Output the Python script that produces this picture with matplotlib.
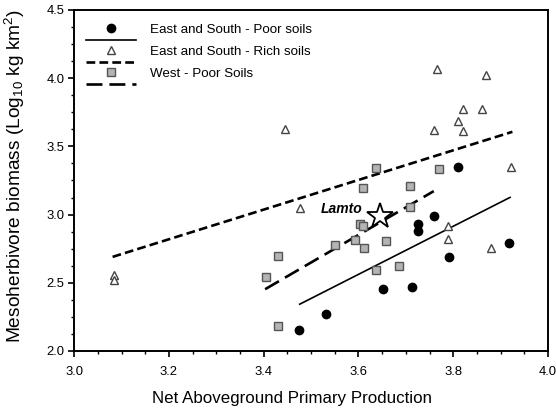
import matplotlib
matplotlib.use("Agg")
import matplotlib.pyplot as plt
from matplotlib.lines import Line2D
from matplotlib.legend_handler import HandlerBase
from matplotlib.ticker import MultipleLocator, FormatStrFormatter

plt.rcParams['font.family'] = ['Liberation Sans', 'DejaVu Sans']
plt.rcParams['mathtext.fontset'] = 'custom'
plt.rcParams['mathtext.rm'] = 'Liberation Sans'
plt.rcParams['mathtext.it'] = 'Liberation Sans:italic'
plt.rcParams['lines.scale_dashes'] = False

# East and South - poor soils
poor_x = [3.474, 3.532, 3.652, 3.712, 3.726, 3.726, 3.759, 3.791, 3.811, 3.918]
poor_y = [2.157, 2.270, 2.451, 2.466, 2.930, 2.881, 2.991, 2.690, 3.350, 2.793]

# East and South - rich soils
rich_x = [3.083, 3.083, 3.444, 3.476, 3.759, 3.766, 3.789, 3.789, 3.810,
          3.821, 3.821, 3.861, 3.869, 3.880, 3.923]
rich_y = [2.556, 2.524, 3.627, 3.050, 3.620, 4.065, 2.918, 2.818, 3.686,
          3.771, 3.610, 3.771, 4.023, 2.752, 3.350]

# West - poor soils
west_x = [3.404, 3.430, 3.430, 3.551, 3.592, 3.603, 3.610, 3.610, 3.611,
          3.636, 3.636, 3.659, 3.685, 3.708, 3.708, 3.769]
west_y = [2.543, 2.700, 2.182, 2.776, 2.813, 2.930, 2.918, 3.192, 2.752,
          3.343, 2.592, 2.805, 2.624, 3.209, 3.052, 3.331]

# Lamto site
lamto_x = [3.646]
lamto_y = [2.989]

# Regression line end points
poor_fit_x = [3.476, 3.920]
poor_fit_y = [2.343, 3.126]
rich_fit_x = [3.081, 3.925]
rich_fit_y = [2.690, 3.607]
west_fit_x = [3.403, 3.759]
west_fit_y = [2.453, 3.172]

labels = ["East and South - Poor soils", "East and South - Rich soils",
          "West - Poor Soils"]

poor_marker = dict(marker='o', markersize=6, markerfacecolor='black',
                   markeredgecolor='black', linestyle='none')
rich_marker = dict(marker='^', markersize=5.5, markerfacecolor='white',
                   markeredgecolor='#444444', markeredgewidth=1.0, linestyle='none')
west_marker = dict(marker='s', markersize=5.6, markerfacecolor='#b4b4b4',
                   markeredgecolor='#555555', markeredgewidth=1.0, linestyle='none')

poor_line = dict(color='black', linewidth=1.2, linestyle='-')
rich_line = dict(color='black', linewidth=1.9, linestyle=(0, (6.3, 3.0)))
west_line = dict(color='black', linewidth=1.9, linestyle=(0, (11.5, 5.0)))

fig = plt.figure(figsize=(5.56, 4.11), dpi=100)
ax = fig.add_axes([0.1335, 0.146, 0.852, 0.8297])

ax.plot(rich_fit_x, rich_fit_y, **rich_line)
ax.plot(west_fit_x, west_fit_y, **west_line)
ax.plot(poor_fit_x, poor_fit_y, **poor_line)

ax.plot(rich_x, rich_y, **rich_marker)
ax.plot(west_x, west_y, **west_marker)
ax.plot(poor_x, poor_y, **poor_marker)

ax.plot(lamto_x, lamto_y, marker='*', markersize=19, markerfacecolor='white',
        markeredgecolor='black', markeredgewidth=1.3, linestyle='none')
ax.annotate("Lamto", (lamto_x[0], lamto_y[0]), xytext=(-13, 5),
            textcoords='offset points', ha='right', va='center',
            fontsize=10, fontweight='bold', fontstyle='italic')


class StackedHandler(HandlerBase):
    """Legend key with the marker above a sample of the fit line."""

    def __init__(self, marker_kw, line_kw, gap):
        super().__init__()
        self.marker_kw = marker_kw
        self.line_kw = line_kw
        self.gap = gap

    def create_artists(self, legend, orig_handle, xdescent, ydescent,
                       width, height, fontsize, trans):
        ym = height / 2 - ydescent
        xm = width / 2 - xdescent
        mk = Line2D([xm], [ym], **self.marker_kw)
        ln = Line2D([-xdescent, width - xdescent],
                    [ym - self.gap, ym - self.gap], **self.line_kw)
        mk.set_transform(trans)
        ln.set_transform(trans)
        return [ln, mk]


handles = [Line2D([], []), Line2D([], []), Line2D([], [])]
handler_map = {
    handles[0]: StackedHandler(poor_marker, poor_line, 8.4),
    handles[1]: StackedHandler(rich_marker, rich_line, 8.4),
    handles[2]: StackedHandler(west_marker, west_line, 8.4),
}
ax.legend(handles, labels, handler_map=handler_map, loc='upper left',
          bbox_to_anchor=(0.0, 1.0), frameon=False, fontsize=9.6,
          handlelength=3.75, handleheight=1.0, handletextpad=1.0,
          labelspacing=0.64, borderaxespad=0.62, borderpad=0.3)

ax.set_xlim(3.0, 4.0)
ax.set_ylim(2.0, 4.5)
ax.xaxis.set_major_locator(MultipleLocator(0.2))
ax.xaxis.set_minor_locator(MultipleLocator(0.05))
ax.yaxis.set_major_locator(MultipleLocator(0.5))
ax.yaxis.set_minor_locator(MultipleLocator(0.125))
ax.xaxis.set_major_formatter(FormatStrFormatter('%.1f'))
ax.yaxis.set_major_formatter(FormatStrFormatter('%.1f'))

ax.tick_params(which='major', direction='out', length=4.0, width=1.2,
               labelsize=9.4, top=False, right=False)
ax.tick_params(which='minor', direction='out', length=2.3, width=1.0,
               top=False, right=False)
ax.tick_params(axis='x', which='major', pad=7.0)
ax.tick_params(axis='y', which='major', pad=3.0)
for sp in ax.spines.values():
    sp.set_linewidth(1.4)

ax.set_xlabel("Net Aboveground Primary Production", fontsize=12.2)
ax.xaxis.set_label_coords(0.459, -0.117)
ax.set_ylabel(r"Mesoherbivore biomass (Log$_{10}$ kg km$^{2}$)", fontsize=13.8)
ax.yaxis.set_label_coords(-0.1, 0.513)

fig.savefig("out.png", dpi=100)
